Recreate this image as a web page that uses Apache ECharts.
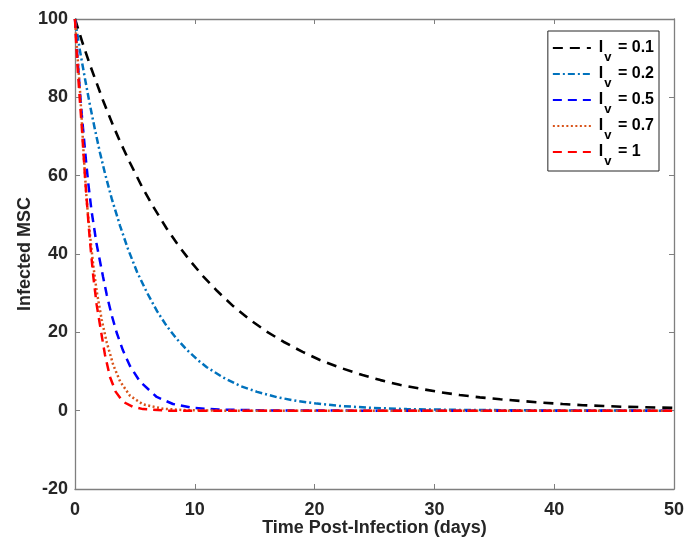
<!DOCTYPE html>
<html><head><meta charset="utf-8">
<script src="https://cdn.jsdelivr.net/npm/echarts@6/dist/echarts.min.js"></script>
<style>html,body{margin:0;padding:0;background:#fff}#c{width:684px;height:540px}</style>
</head><body><div id="c"></div>
<script>
// Iv = 0.1
const t01 = [0,0.64,1.25,2.34,3.17,3.76,4.59,5.57,6.51,7.65,8.6,9.6,10.7,11.85,13.2,14.6,16.0,17.4,19.0,20.4,22.1,24.0,25.5,27.1,29.0,30.5,32.1,33.8,35.5,37.1,38.8,40.7,42.4,44.1,45.7,47.4,50];
const v01 = [100,93.8,88.3,79.2,72.9,68.7,63.3,57.3,52.2,46.5,42.3,38.3,34.3,30.6,26.7,23.2,20.2,17.6,15.0,13.0,11.0,9.1,7.8,6.6,5.5,4.7,4.0,3.4,2.9,2.5,2.1,1.7,1.4,1.2,1.0,0.9,0.7];
// Iv = 0.2
const t02 = [0,0.42,0.83,1.25,1.67,2.09,2.5,3.06,3.76,4.42,5.18,6.0,6.85,7.68,8.5,9.35,10.3,11.0,12.35,13.8,15.2,16.9,18.5,20.2,22.1,24.9,27.7,32,40,50];
const v02 = [100,91.8,84.8,78.0,71.7,65.8,60.6,54.2,47.2,41.3,35.4,30.2,25.4,21.5,18.3,15.5,12.8,11.1,8.5,6.3,4.8,3.4,2.5,1.8,1.2,0.7,0.4,0.2,0.05,0];
// Iv = 0.5
const t05 = [0,0.14,0.28,0.42,0.61,0.92,1.11,1.39,1.81,2.34,2.65,3.06,3.48,4.0,4.59,5.43,6.82,8.18,9.85,12,16,25,50];
const v05 = [100,93.2,87.0,81.2,74.0,63.8,58.0,50.8,42.4,34.2,29.6,24.4,19.9,15.4,11.4,7.4,3.5,1.7,0.7,0.3,0.05,0,0];
// Iv = 0.7
const t07 = [0,0.14,0.28,0.42,0.5,0.61,0.69,0.78,0.98,1.25,1.53,1.81,2.23,2.65,3.2,3.76,4.59,5.68,7.35,9.0,12,20,50];
const v07 = [100,93.5,87.5,81.6,77.3,71.8,67.3,62.6,53.5,44.8,37.0,30.5,23.2,17.4,11.6,7.5,3.8,1.6,0.5,0.15,0,0,0];
// Iv = 1
const t10 = [0,0.08,0.19,0.33,0.42,0.56,0.64,0.75,0.83,1.11,1.25,1.53,1.81,2.23,2.5,2.92,3.4,4.0,4.8,5.68,7.68,12,50];
const v10 = [100,94.8,88.8,82.5,78.6,72.8,68.9,63.8,60.0,48.5,43.2,34.2,27.0,19.2,14.3,8.6,4.8,2.3,1.0,0.4,0,0,0];

const names = ['I_v = 0.1','I_v = 0.2','I_v = 0.5','I_v = 0.7','I_v = 1'];
const xTicks = [0,10,20,30,40,50];
const yTicks = [-20,0,20,40,60,80,100];

const zip = (a,b) => a.map((x,i)=>[x,b[i]]);
const FONT = 'Liberation Sans';
const axisGray = '#7f7f7f';
const txt = '#262626';

const mkSeries = (name, t, v, color, dash, w) => ({
  name, type:'line', data: zip(t,v), symbol:'none', showSymbol:false, smooth:false,
  lineStyle:{color, width:w, type:dash}, itemStyle:{color}, z: 2
});

const baseAxis = {
  nameMoveOverlap:false,
  axisLine:{show:true, onZero:false, lineStyle:{color:axisGray, width:1.3}},
  axisTick:{show:true, inside:true, length:5, lineStyle:{color:axisGray, width:1}},
  splitLine:{show:false}
};

const chart = echarts.init(document.getElementById('c'), null, {renderer:'canvas'});
chart.setOption({
  backgroundColor:'#fff',
  animation:false,
  grid:{left:75, right:10, top:19, bottom:51, containLabel:false, outerBoundsMode:'none'},
  xAxis:[Object.assign({
    type:'value', min:0, max:50, interval:10,
    name:'Time Post-Infection (days)', nameLocation:'middle', nameGap:30,
    nameTextStyle:{fontFamily:FONT, fontWeight:'bold', fontSize:18, color:txt},
    axisLabel:{fontFamily:FONT, fontWeight:'bold', fontSize:18, color:txt, margin:12,
      formatter:v=>xTicks.includes(v)?String(v):''}
  }, baseAxis),Object.assign({
    type:'value', position:'top', min:0, max:50, interval:10,
    axisLabel:{show:false}
  }, baseAxis)],
  yAxis:[Object.assign({
    type:'value', min:-20, max:100, interval:20,
    name:'Infected MSC', nameLocation:'middle', nameGap:41,
    nameTextStyle:{fontFamily:FONT, fontWeight:'bold', fontSize:18, color:txt},
    axisLabel:{fontFamily:FONT, fontWeight:'bold', fontSize:18, color:txt, margin:7,
      formatter:v=>yTicks.includes(v)?String(v):''}
  }, baseAxis),Object.assign({
    type:'value', position:'right', min:-20, max:100, interval:20,
    axisLabel:{show:false}
  }, baseAxis)],
  legend:{
    orient:'vertical', right:25, top:31,
    backgroundColor:'#fff', borderColor:'#262626', borderWidth:1,
    padding:[9,5,3,4], itemGap:2, itemWidth:38, itemHeight:12,
    itemStyle:{opacity:0},
    data:names,
    formatter: n => '{i|I}{s|v}{t|' + n.slice(3) + '}',
    textStyle:{fontFamily:FONT, fontWeight:'bold', fontSize:16, color:'#000',
      rich:{
        i:{fontFamily:FONT, fontWeight:'bold', fontSize:16, lineHeight:32, verticalAlign:'middle', color:'#000', padding:[0,0,0,3]},
        s:{fontFamily:FONT, fontWeight:'bold', fontSize:13, lineHeight:20, verticalAlign:'bottom', color:'#000', padding:[0,2,0,1]},
        t:{fontFamily:FONT, fontWeight:'bold', fontSize:16, lineHeight:32, verticalAlign:'middle', color:'#000'}
      }}
  },
  series:[
    mkSeries(names[0], t01, v01, '#000000', [10,7], 2.6),
    mkSeries(names[1], t02, v02, '#0072BD', [7,3,2,3], 2.5),
    mkSeries(names[2], t05, v05, '#0000FF', [9,6], 2.5),
    mkSeries(names[3], t07, v07, '#D95319', [2,2.5], 2.5),
    mkSeries(names[4], t10, v10, '#FF0000', [9,6], 2.5)
  ]
});
</script></body></html>
